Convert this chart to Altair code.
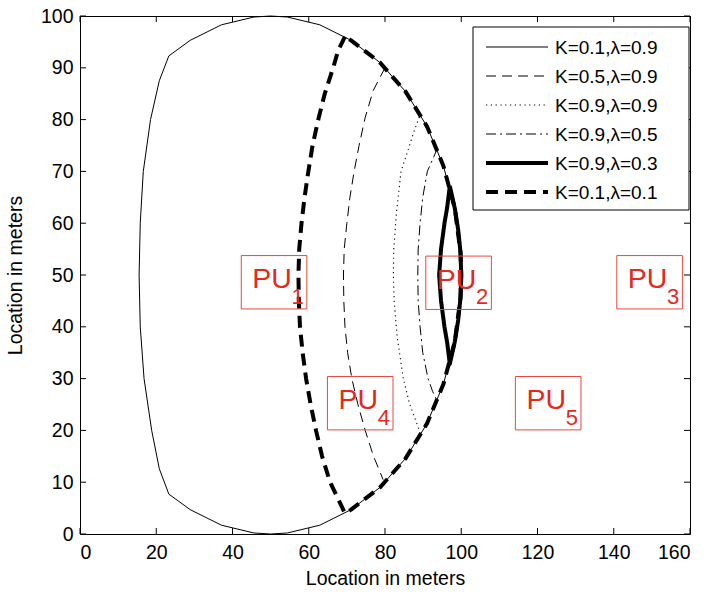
import altair as alt
import pandas as pd

# ---------------- data ----------------
series_names = ["K=0.1,λ=0.9", "K=0.5,λ=0.9", "K=0.9,λ=0.9",
                "K=0.9,λ=0.5", "K=0.9,λ=0.3", "K=0.1,λ=0.1"]

c1_x = [23.3, 28.9, 37.1, 45.6, 50.0, 54.4, 62.9, 71.1, 78.7, 85.4, 91.0, 95.3, 98.3, 99.8, 100.0,
        99.8, 98.3, 95.3, 91.0, 85.4, 78.7, 71.1, 62.9, 54.4, 50.0, 45.6, 37.1, 28.9, 23.3,
        20.8, 18.8, 16.8, 15.8, 15.5, 15.8, 16.6, 18.5, 20.8, 23.3]
c1_y = [92.3, 95.3, 98.3, 99.8, 100.0, 99.8, 98.3, 95.3, 91.0, 85.4, 78.7, 71.1, 62.9, 54.4, 50.0,
        45.6, 37.1, 28.9, 21.3, 14.6, 9.0, 4.7, 1.7, 0.2, 0.0, 0.2, 1.7, 4.7, 7.7,
        12.6, 20.0, 30.0, 40.0, 50.0, 60.0, 70.0, 80.0, 87.5, 92.3]

c2_x = [80.0, 76.9, 74.8, 73.2, 71.9, 70.8, 70.0, 69.3, 69.1, 69.2, 69.5, 70.2, 71.3, 72.9, 74.8, 77.0, 79.5]
c2_y = [90.0, 85.6, 80.4, 75.0, 70.0, 65.0, 60.0, 55.0, 50.0, 45.0, 40.0, 35.0, 30.0, 25.0, 20.0, 15.0, 10.5]

c3_x = [89.0, 87.5, 86.0, 84.2, 83.0, 82.3, 82.2, 82.4, 83.2, 84.8, 86.5, 88.5, 89.2]
c3_y = [80.5, 77.5, 74.0, 70.0, 62.0, 55.0, 50.0, 45.0, 38.0, 30.0, 25.0, 21.0, 19.5]

c4_x = [93.8, 92.3, 91.1, 89.9, 89.2, 88.7, 88.6, 88.7, 89.2, 89.9, 91.3, 92.5, 93.8]
c4_y = [74.5, 72.0, 70.0, 65.0, 60.0, 55.0, 50.0, 45.0, 40.0, 35.0, 30.0, 27.5, 25.5]

c5_x = [97.0, 96.3, 95.6, 94.7, 94.2, 94.7, 95.6, 96.3, 97.0, 98.3, 99.2, 99.8, 100.0, 99.8, 99.2, 98.3, 97.0]
c5_y = [67.2, 63.0, 60.0, 55.0, 50.0, 45.0, 40.0, 37.0, 32.8, 37.1, 41.3, 45.6, 50.0, 54.4, 58.7, 62.9, 67.2]

c6_x = [69.5, 67.7, 66.4, 64.2, 62.5, 61.0, 59.9, 58.9, 58.1, 57.5, 57.3,
        57.4, 57.7, 58.4, 59.3, 60.5, 61.9, 63.5, 65.6, 68.2, 69.5,
        71.1, 78.7, 85.4, 91.0, 95.3, 98.3, 99.8, 100.0,
        99.8, 98.3, 95.3, 91.0, 85.4, 78.7, 71.1, 69.5]
c6_y = [96.0, 93.3, 90.0, 85.0, 80.0, 75.0, 70.0, 65.0, 60.0, 55.0, 50.0,
        45.0, 40.0, 35.0, 30.0, 25.0, 20.0, 15.0, 10.0, 6.0, 4.0,
        4.7, 9.0, 14.6, 21.3, 28.9, 37.1, 45.6, 50.0,
        54.4, 62.9, 71.1, 78.7, 85.4, 91.0, 95.3, 96.0]

pu_num = ["1", "2", "3", "4", "5"]
pu_cx = [50.9, 99.3, 149.4, 73.5, 122.8]
pu_cy = [48.6, 48.5, 48.6, 25.25, 25.25]

x_ticks = [0, 20, 40, 60, 80, 100, 120, 140, 160]
y_ticks = [0, 10, 20, 30, 40, 50, 60, 70, 80, 90, 100]

# ---------------- tables ----------------
all_x = [c1_x, c2_x, c3_x, c4_x, c5_x, c6_x]
all_y = [c1_y, c2_y, c3_y, c4_y, c5_y, c6_y]
frames = []
for name, xs_, ys_ in zip(series_names, all_x, all_y):
    frames.append(pd.DataFrame({"series": name, "idx": list(range(len(xs_))), "x": xs_, "y": ys_}))
curves = pd.concat(frames, ignore_index=True)
pu = pd.DataFrame({"num": pu_num, "cx": pu_cx, "cy": pu_cy})

# ---------------- styles ----------------
W, H = 610, 518
FONT = "Liberation Sans"
RED = "#e3291f"
BOX_RED = "#e8483f"
dashes = [None, [10, 6], [1.2, 3.6], [10, 4, 2, 4], None, [12, 7]]
widths = [1, 1, 1.1, 1, 4, 4]

xs = alt.Scale(domain=[0, 160], nice=False, zero=False)
ys = alt.Scale(domain=[0, 100], nice=False, zero=False)
x_axis = alt.Axis(values=x_ticks, title="Location in meters", grid=False, ticks=False, tickSize=0,
                  domain=False, labelFont=FONT, labelFontSize=19.5, labelColor="black",
                  labelPadding=9, titleFont=FONT, titleFontSize=19.5, titleFontWeight="normal",
                  titleColor="black", titleX=W / 2, titleY=50, titleBaseline="alphabetic",
                  titleAlign="center")
y_axis = alt.Axis(values=y_ticks, title="Location in meters", grid=False, ticks=False, tickSize=0,
                  domain=False, labelFont=FONT, labelFontSize=19.5, labelColor="black",
                  labelPadding=7, titleFont=FONT, titleFontSize=19.5, titleFontWeight="normal",
                  titleColor="black", titleX=-59, titleY=H / 2, titleAngle=-90,
                  titleBaseline="alphabetic", titleAlign="center")


def X(f):
    return alt.X(f, scale=xs, axis=x_axis)


def Y(f):
    return alt.Y(f, scale=ys, axis=y_axis)


layers = []

# curves
for i, name in enumerate(series_names):
    kw = dict(color="black", strokeWidth=widths[i], strokeCap="butt", strokeJoin="round")
    if dashes[i] is not None:
        kw["strokeDash"] = dashes[i]
    layers.append(
        alt.Chart(curves).transform_filter(alt.datum.series == name)
        .mark_line(**kw).encode(x=X("x:Q"), y=Y("y:Q"), order="idx:Q")
    )

# PU boxes and labels
layers.append(
    alt.Chart(pu).transform_calculate(
        x0="datum.cx - 8.6", x1="datum.cx + 8.6", y0="datum.cy - 5.15", y1="datum.cy + 5.15"
    ).mark_rect(fill="white", fillOpacity=0, stroke=BOX_RED, strokeWidth=1)
    .encode(x=X("x0:Q"), x2="x1:Q", y=Y("y0:Q"), y2="y1:Q")
)
layers.append(
    alt.Chart(pu).mark_text(text="PU", font=FONT, fontSize=28.5, color=RED, align="center",
                            baseline="alphabetic", dx=-2, dy=6)
    .encode(x=X("cx:Q"), y=Y("cy:Q"))
)
layers.append(
    alt.Chart(pu).mark_text(font=FONT, fontSize=22, color=RED, align="left",
                            baseline="alphabetic", dx=17.5, dy=21.5)
    .encode(x=X("cx:Q"), y=Y("cy:Q"), text="num:N")
)

# inward ticks on all four sides
xt = pd.DataFrame({"v": x_ticks})
yt = pd.DataFrame({"v": y_ticks})
layers.append(alt.Chart(xt).mark_rule(color="black", strokeWidth=1)
              .encode(x=X("v:Q"), y=alt.value(H), y2=alt.value(H - 6)))
layers.append(alt.Chart(xt).mark_rule(color="black", strokeWidth=1)
              .encode(x=X("v:Q"), y=alt.value(0), y2=alt.value(6)))
layers.append(alt.Chart(yt).mark_rule(color="black", strokeWidth=1)
              .encode(y=Y("v:Q"), x=alt.value(0), x2=alt.value(6)))
layers.append(alt.Chart(yt).mark_rule(color="black", strokeWidth=1)
              .encode(y=Y("v:Q"), x=alt.value(W), x2=alt.value(W - 6)))

# legend box
leg = pd.DataFrame({"series": series_names, "row": list(range(len(series_names)))})
layers.append(
    alt.Chart(leg.head(1)).mark_rect(fill="white", stroke="black", strokeWidth=1)
    .encode(x=alt.value(393), x2=alt.value(609), y=alt.value(11), y2=alt.value(194))
)
for i, name in enumerate(series_names):
    ry = 31 + 29 * i
    kw = dict(color="black", strokeWidth=widths[i], strokeCap="butt")
    if dashes[i] is not None:
        kw["strokeDash"] = dashes[i]
    sub = leg[leg.series == name]
    layers.append(alt.Chart(sub).mark_rule(**kw)
                  .encode(x=alt.value(406), x2=alt.value(468), y=alt.value(ry)))
    layers.append(alt.Chart(sub).mark_text(font=FONT, fontSize=19, color="black", align="left",
                                           baseline="middle")
                  .encode(x=alt.value(475), y=alt.value(ry + 1), text="series:N"))

chart = alt.layer(*layers).properties(
    width=W, height=H,
    autosize=alt.AutoSizeParams(type="none"),
    padding={"left": 80, "top": 16, "right": 18, "bottom": 58},
    background="white",
).configure_view(stroke="black", strokeWidth=1)

chart.save("out.html", embed_options={"renderer": "svg", "actions": False})
